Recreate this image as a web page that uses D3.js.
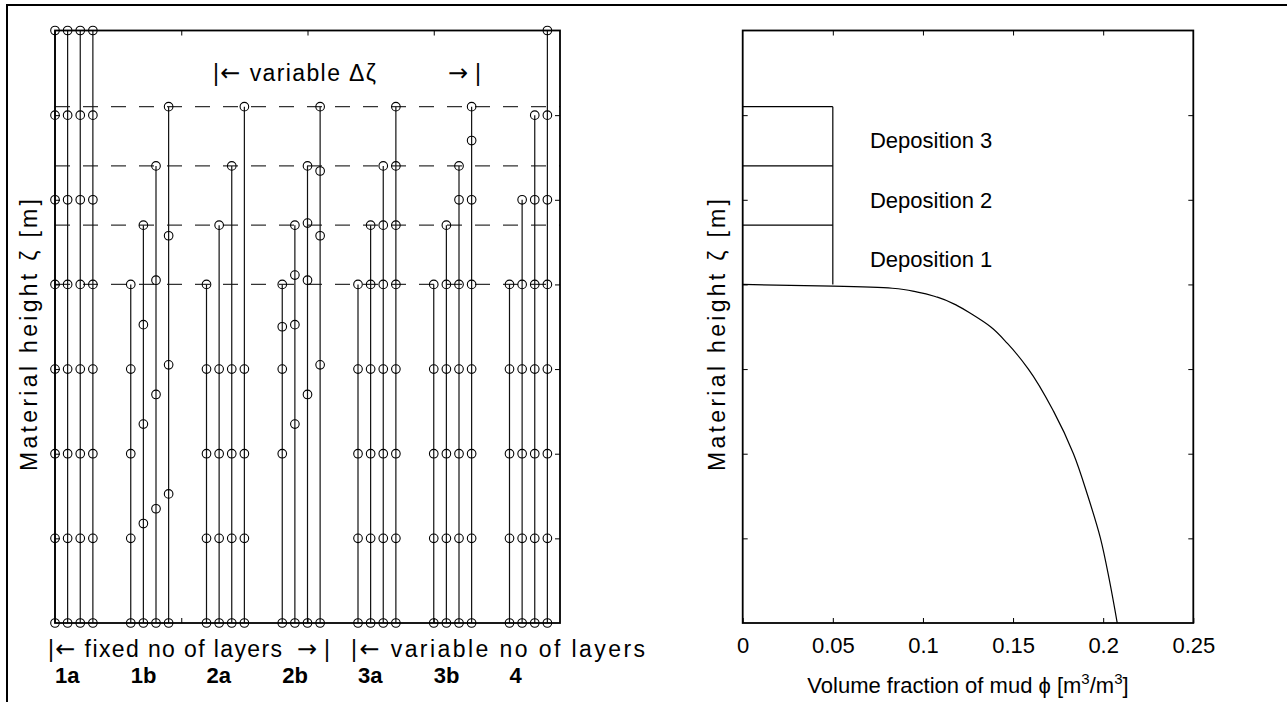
<!DOCTYPE html>
<html>
<head>
<meta charset="utf-8">
<style>
  body { margin: 0; background: #fff; }
  svg { display: block; font-family: "Liberation Sans", Arial, Helvetica, sans-serif; }
</style>
</head>
<body>
<svg width="1287" height="702"></svg>
<script src="https://cdnjs.cloudflare.com/ajax/libs/d3/7.8.5/d3.min.js"></script>
<script>

// ---- data ----
var groupLabels = ["1a", "1b", "2a", "2b", "3a", "3b", "4"];
var groupStart = [0, 0.6, 1.2, 1.8, 2.4, 3.0, 3.6];   // x of first column of each group
var colStep = 0.1;

// node heights of every column (4 columns per group)
var nodes1a = [[0,1,2,3,4,5,6,7], [0,1,2,3,4,5,6,7], [0,1,2,3,4,5,6,7], [0,1,2,3,4,5,6,7]];
var nodes1b = [[0,1,2,3,4], [0,1.175,2.35,3.525,4.7], [0,1.35,2.7,4.05,5.4], [0,1.525,3.05,4.575,6.1]];
var nodes2a = [[0,1,2,3,4], [0,1,2,3,4.7], [0,1,2,3,5.4], [0,1,2,3,6.1]];
var nodes2b = [[0,2,3,3.5,4], [0,2.35,3.525,4.11,4.7], [0,2.7,4.05,4.725,5.4], [0,3.05,4.575,5.34,6.1]];
var nodes3a = [[0,1,2,3,4], [0,1,2,3,4,4.7], [0,1,2,3,4,4.7,5.4], [0,1,2,3,4,4.7,5.4,6.1]];
var nodes3b = [[0,1,2,3,4], [0,1,2,3,4,4.7], [0,1,2,3,4,5,5.4], [0,1,2,3,4,5,5.7,6.1]];
var nodes4  = [[0,1,2,3,4], [0,1,2,3,4,5], [0,1,2,3,4,5,6], [0,1,2,3,4,5,6,7]];
var allGroups = [nodes1a, nodes1b, nodes2a, nodes2b, nodes3a, nodes3b, nodes4];

var depositLevels = [4.0, 4.7, 5.4, 6.1];
var depositWidth = 0.05;
var depositNames = ["Deposition 1", "Deposition 2", "Deposition 3"];

// mud fraction profile, from the surface down
var mudZeta = [4.0, 3.98, 3.955, 3.91, 3.85, 3.75, 3.65, 3.5, 3.3, 3.0, 2.5, 2.0, 1.5, 1.0, 0.5, 0];
var mudPhi  = [0, 0.05, 0.083, 0.097, 0.108, 0.119, 0.127, 0.1375, 0.147, 0.1585, 0.1725, 0.1835, 0.1915, 0.1985, 0.2035, 0.2078];

var phiTicks = [0, 0.05, 0.1, 0.15, 0.2, 0.25];
var phiTickLabels = ["0", "0.05", "0.1", "0.15", "0.2", "0.25"];

// ---- layout ----
var svg = d3.select("svg");
var yTop = 30.5, yBot = 623;

var xL = d3.scaleLinear().domain([0, 4]).range([55, 560]);
var yL = d3.scaleLinear().domain([0, 7]).range([yBot, yTop]);
var xR = d3.scaleLinear().domain([0, 0.25]).range([742.7, 1193.3]);
var yR = d3.scaleLinear().domain([0, 7]).range([yBot, yTop]);

// figure frame
svg.append("path")
    .attr("d", "M7,710 L7,5 L1295,5")
    .attr("fill", "none").attr("stroke", "#000").attr("stroke-width", 2);

function box(g, x, y, xTicks, xTop, labels) {
    var tk = 5;
    g.append("g").attr("transform", "translate(0," + y.range()[0] + ")")
        .call(d3.axisBottom(x).tickValues(xTicks)
            .tickSizeInner(-tk).tickSizeOuter(0).tickPadding(14)
            .tickFormat(function(d, i) { return labels ? labels[i] : ""; }));
    g.append("g").attr("transform", "translate(0," + y.range()[1] + ")")
        .call(d3.axisTop(x).tickValues(xTop)
            .tickSizeInner(-tk).tickSizeOuter(0).tickFormat(""));
    g.append("g").attr("transform", "translate(" + x.range()[0] + ",0)")
        .call(d3.axisLeft(y).tickValues([1,2,3,4,5,6]).tickSizeInner(-tk).tickSizeOuter(0).tickFormat(""));
    g.append("g").attr("transform", "translate(" + x.range()[1] + ",0)")
        .call(d3.axisRight(y).tickValues([1,2,3,4,5,6]).tickSizeInner(-tk).tickSizeOuter(0).tickFormat(""));
    g.selectAll(".domain").remove();
    g.selectAll(".tick line").attr("stroke", "#000").attr("stroke-width", 1);
    g.selectAll(".tick text").attr("font-size", 22).attr("font-family", "Liberation Sans, Arial, sans-serif").attr("fill", "#000");
    g.append("rect")
        .attr("x", x.range()[0]).attr("y", y.range()[1])
        .attr("width", x.range()[1] - x.range()[0])
        .attr("height", y.range()[0] - y.range()[1])
        .attr("fill", "none").attr("stroke", "#000").attr("stroke-width", 1.8);
}

// text with a wide arrow glyph, stretched to a given length
function arrowText(g, x, y, parts, len) {
    var t = g.append("text").attr("x", x).attr("y", y).attr("font-size", 23)
        .attr("textLength", len).attr("lengthAdjust", "spacing");
    parts.forEach(function(p) {
        var s = t.append("tspan").text(p);
        if (p === "\u2190" || p === "\u2192") s.attr("font-family", "DejaVu Sans").attr("font-size", 24);
    });
    return t;
}

// ---- left panel ----
var gl = svg.append("g");

gl.selectAll("line.lev").data(depositLevels).enter().append("line")
    .attr("class", "lev")
    .attr("x1", xL(0)).attr("x2", xL(4))
    .attr("y1", function(d) { return yL(d); }).attr("y2", function(d) { return yL(d); })
    .attr("stroke", "#333").attr("stroke-width", 1.2)
    .attr("stroke-dasharray", "15,13");

var cols = [];
allGroups.forEach(function(grp, gi) {
    grp.forEach(function(col, ci) {
        cols.push({ x: groupStart[gi] + ci * colStep, z: col });
    });
});

var cg = gl.selectAll("g.col").data(cols).enter().append("g").attr("class", "col");
cg.append("line")
    .attr("x1", function(d) { return xL(d.x); }).attr("x2", function(d) { return xL(d.x); })
    .attr("y1", yL(0))
    .attr("y2", function(d) { return yL(d3.max(d.z)); })
    .attr("stroke", "#111").attr("stroke-width", 1.2);
cg.selectAll("circle").data(function(d) { return d.z.map(function(z) { return { x: d.x, z: z }; }); })
    .enter().append("circle")
    .attr("cx", function(d) { return xL(d.x); })
    .attr("cy", function(d) { return yL(d.z); })
    .attr("r", 4.3)
    .attr("fill", "none").attr("stroke", "#000").attr("stroke-width", 1.1);

box(gl, xL, yL, [1, 2, 3], [1, 2, 3], null);

arrowText(gl, 213, 81, ["|", "\u2190", " variable \u0394\u03b6"], 163);
arrowText(gl, 448, 81, ["\u2192", "|"], 33);

arrowText(gl, 48, 657, ["|", "\u2190", " fixed no of layers"], 234);
arrowText(gl, 297, 657, ["\u2192", "|"], 33);
arrowText(gl, 351, 657, ["|", "\u2190", " variable no of layers"], 294);

gl.selectAll("text.glab").data(groupLabels).enter().append("text")
    .attr("class", "glab")
    .attr("x", function(d, i) { return xL(groupStart[i]); })
    .attr("y", 683)
    .attr("font-size", 22).attr("font-weight", "bold")
    .text(function(d) { return d; });

gl.append("text")
    .attr("transform", "translate(37,335) rotate(-90)")
    .attr("text-anchor", "middle").attr("font-size", 23)
    .attr("textLength", 272).attr("lengthAdjust", "spacing")
    .text("Material height \u03b6 [m]");

// ---- right panel ----
var gr = svg.append("g");

for (var k = 1; k < depositLevels.length; k++) {
    gr.append("line")
        .attr("x1", xR(0)).attr("x2", xR(depositWidth))
        .attr("y1", yR(depositLevels[k])).attr("y2", yR(depositLevels[k]))
        .attr("stroke", "#000").attr("stroke-width", 1.2);
}
gr.append("line")
    .attr("x1", xR(depositWidth)).attr("x2", xR(depositWidth))
    .attr("y1", yR(depositLevels[0])).attr("y2", yR(depositLevels[depositLevels.length - 1]))
    .attr("stroke", "#000").attr("stroke-width", 1.2);

gr.selectAll("text.dep").data(depositNames).enter().append("text")
    .attr("class", "dep")
    .attr("x", xR(0.0706))
    .attr("y", function(d, i) { return yR((depositLevels[i] + depositLevels[i + 1]) / 2); })
    .attr("dy", "0.55em")
    .attr("font-size", 22)
    .text(function(d) { return d; });

var pts = mudPhi.map(function(p, i) { return [p, mudZeta[i]]; });
gr.append("path")
    .datum(pts)
    .attr("d", d3.line().x(function(d) { return xR(d[0]); }).y(function(d) { return yR(d[1]); })
        .curve(d3.curveMonotoneY))
    .attr("fill", "none").attr("stroke", "#000").attr("stroke-width", 1.2);

box(gr, xR, yR, phiTicks, phiTicks.slice(1, 5), phiTickLabels);

gr.append("text")
    .attr("transform", "translate(725,335) rotate(-90)")
    .attr("text-anchor", "middle").attr("font-size", 23)
    .attr("textLength", 272).attr("lengthAdjust", "spacing")
    .text("Material height \u03b6 [m]");

var xl = gr.append("text").attr("x", (xR.range()[0] + xR.range()[1]) / 2).attr("y", 693)
    .attr("text-anchor", "middle").attr("font-size", 22);
xl.append("tspan").text("Volume fraction of mud \u03d5 [m");
xl.append("tspan").attr("dy", -9).attr("font-size", 15).text("3");
xl.append("tspan").attr("dy", 9).text("/m");
xl.append("tspan").attr("dy", -9).attr("font-size", 15).text("3");
xl.append("tspan").attr("dy", 9).text("]");

</script>
</body>
</html>
